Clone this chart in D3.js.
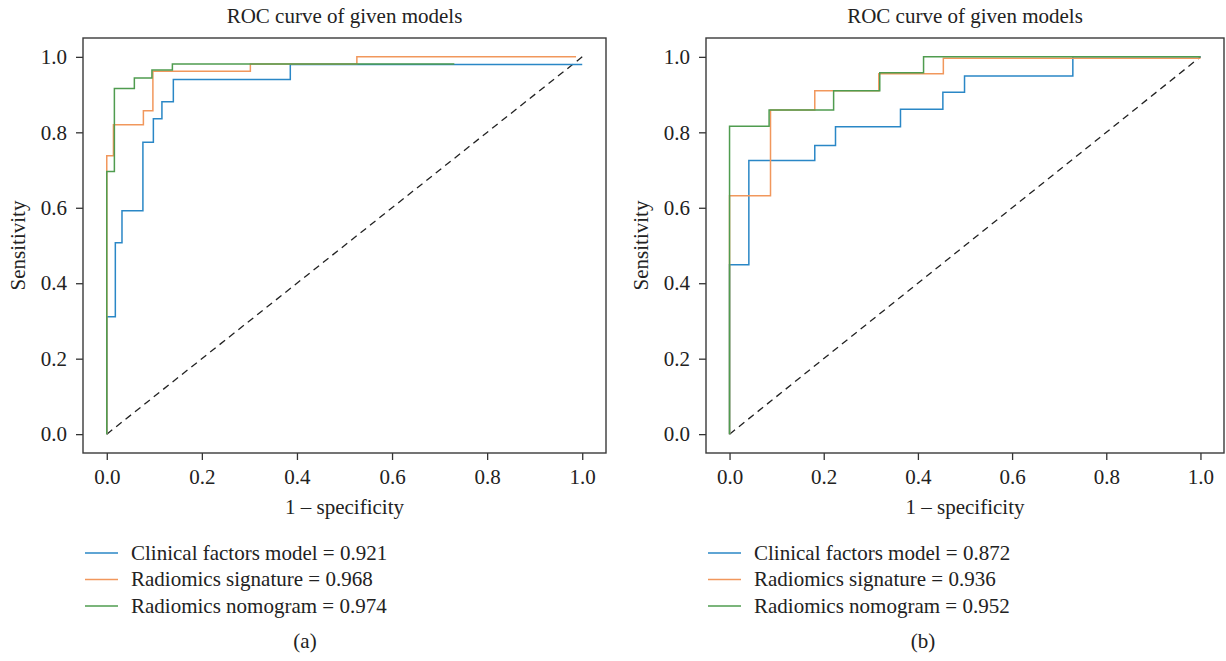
<!DOCTYPE html>
<html>
<head>
<meta charset="utf-8">
<script src="https://cdnjs.cloudflare.com/ajax/libs/d3/7.8.5/d3.min.js"></script>
<style>
  body { margin: 0; background: #fff; }
  text { font-family: "Liberation Serif", "Times New Roman", serif; fill: #222; }
</style>
</head>
<body>
<div id="chart"></div>
<script>
// ROC points (fpr, tpr), panel (a)
var fprClinicalA = [0, 0, 0.018, 0.018, 0.032, 0.032, 0.076, 0.076, 0.098, 0.098, 0.116, 0.116, 0.140, 0.140, 0.386, 0.386, 1.0];
var tprClinicalA = [0, 0.311, 0.311, 0.507, 0.507, 0.592, 0.592, 0.774, 0.774, 0.836, 0.836, 0.881, 0.881, 0.940, 0.940, 0.980, 0.980];
var fprSignatureA = [0, 0, 0.014, 0.014, 0.077, 0.077, 0.097, 0.097, 0.302, 0.302, 0.526, 0.526, 0.987];
var tprSignatureA = [0, 0.738, 0.738, 0.820, 0.820, 0.857, 0.857, 0.962, 0.962, 0.981, 0.981, 1.0, 1.0];
var fprNomogramA = [0, 0, 0.016, 0.016, 0.058, 0.058, 0.095, 0.095, 0.138, 0.138, 0.731];
var tprNomogramA = [0, 0.696, 0.696, 0.916, 0.916, 0.944, 0.944, 0.965, 0.965, 0.981, 0.981];

// panel (b)
var fprClinicalB = [0, 0, 0.041, 0.041, 0.181, 0.181, 0.225, 0.225, 0.363, 0.363, 0.453, 0.453, 0.499, 0.499, 0.729, 0.729, 1.0];
var tprClinicalB = [0, 0.449, 0.449, 0.725, 0.725, 0.765, 0.765, 0.815, 0.815, 0.861, 0.861, 0.906, 0.906, 0.949, 0.949, 1.0, 1.0];
var fprSignatureB = [0, 0, 0.087, 0.087, 0.181, 0.181, 0.317, 0.317, 0.454, 0.454, 1.0];
var tprSignatureB = [0, 0.632, 0.632, 0.859, 0.859, 0.910, 0.910, 0.955, 0.955, 0.996, 0.996];
var fprNomogramB = [0, 0, 0.084, 0.084, 0.221, 0.221, 0.319, 0.319, 0.412, 0.412, 1.0];
var tprNomogramB = [0, 0.816, 0.816, 0.859, 0.859, 0.910, 0.910, 0.958, 0.958, 1.0, 1.0];

var modelNames = ["Clinical factors model", "Radiomics signature", "Radiomics nomogram"];
var aucA = ["0.921", "0.968", "0.974"];
var aucB = ["0.872", "0.936", "0.952"];
var tickValues = [0, 0.2, 0.4, 0.6, 0.8, 1.0];
var colors = ["#2a87c6", "#f1975c", "#4f9c4f"];

var svgWidth = 1226;
var svgHeight = 661;

var svg = d3.select("#chart")
  .append("svg")
  .attr("width", svgWidth)
  .attr("height", svgHeight);

function zipRoc(fpr, tpr) {
  return fpr.map(function(f, i) { return [f, tpr[i]]; });
}

// one panel: box in page pixels, curves, legend values, caption
function drawPanel(box, curves, aucs, caption, captionX) {
  var width = box.right - box.left;
  var height = box.bottom - box.top;

  var g = svg.append("g")
    .attr("transform", `translate(${box.left}, ${box.top})`);

  var x = d3.scaleLinear().domain([-0.05, 1.05]).range([0, width]);
  var y = d3.scaleLinear().domain([-0.05, 1.05]).range([height, 0]);

  var xAxis = g.append("g")
    .attr("transform", `translate(0, ${height})`)
    .call(d3.axisBottom(x).tickValues(tickValues).tickFormat(d3.format(".1f")).tickSize(7).tickPadding(9));

  var yAxis = g.append("g")
    .call(d3.axisLeft(y).tickValues(tickValues).tickFormat(d3.format(".1f")).tickSize(7).tickPadding(9));

  [xAxis, yAxis].forEach(function(ax) {
    ax.select(".domain").remove();
    ax.selectAll("line").attr("stroke", "#333").attr("stroke-width", 1.3);
    ax.selectAll("text")
      .attr("font-family", "Liberation Serif")
      .attr("font-size", 21)
      .attr("fill", "#222");
  });

  // frame
  g.append("rect")
    .attr("width", width)
    .attr("height", height)
    .attr("fill", "none")
    .attr("stroke", "#3a3a3a")
    .attr("stroke-width", 1.4);

  // chance line
  g.append("line")
    .attr("x1", x(0)).attr("y1", y(0))
    .attr("x2", x(1)).attr("y2", y(1))
    .attr("stroke", "#222")
    .attr("stroke-width", 1.3)
    .attr("stroke-dasharray", "7,5");

  var line = d3.line()
    .x(d => x(d[0]))
    .y(d => y(d[1]));

  curves.forEach(function(c, i) {
    g.append("path")
      .datum(c)
      .attr("d", line)
      .attr("fill", "none")
      .attr("stroke", colors[i])
      .attr("stroke-width", 1.5);
  });

  // title and axis labels
  g.append("text")
    .attr("x", width / 2)
    .attr("y", -15)
    .attr("text-anchor", "middle")
    .attr("font-size", 21)
    .text("ROC curve of given models");

  g.append("text")
    .attr("x", width / 2)
    .attr("y", height + 61)
    .attr("text-anchor", "middle")
    .attr("font-size", 21)
    .text("1 \u2013 specificity");

  g.append("text")
    .attr("transform", `translate(-58, ${height / 2}) rotate(-90)`)
    .attr("text-anchor", "middle")
    .attr("font-size", 21)
    .text("Sensitivity");

  // legend under the axes
  var legend = g.append("g")
    .attr("transform", `translate(0, ${height + 100})`);

  modelNames.forEach(function(name, i) {
    legend.append("line")
      .attr("x1", 2).attr("x2", 35)
      .attr("y1", i * 26.5).attr("y2", i * 26.5)
      .attr("stroke", colors[i])
      .attr("stroke-width", 1.5);
    legend.append("text")
      .attr("x", 48)
      .attr("y", i * 26.5 + 6.5)
      .attr("font-size", 21)
      .text(`${name} = ${aucs[i]}`);
  });

  svg.append("text")
    .attr("x", captionX)
    .attr("y", 648)
    .attr("text-anchor", "middle")
    .attr("font-size", 21)
    .text(caption);
}

drawPanel({left: 83, right: 606, top: 38, bottom: 453},
  [zipRoc(fprClinicalA, tprClinicalA), zipRoc(fprSignatureA, tprSignatureA), zipRoc(fprNomogramA, tprNomogramA)],
  aucA, "(a)", 305);

drawPanel({left: 706, right: 1224, top: 38, bottom: 453},
  [zipRoc(fprClinicalB, tprClinicalB), zipRoc(fprSignatureB, tprSignatureB), zipRoc(fprNomogramB, tprNomogramB)],
  aucB, "(b)", 923);
</script>
</body>
</html>
